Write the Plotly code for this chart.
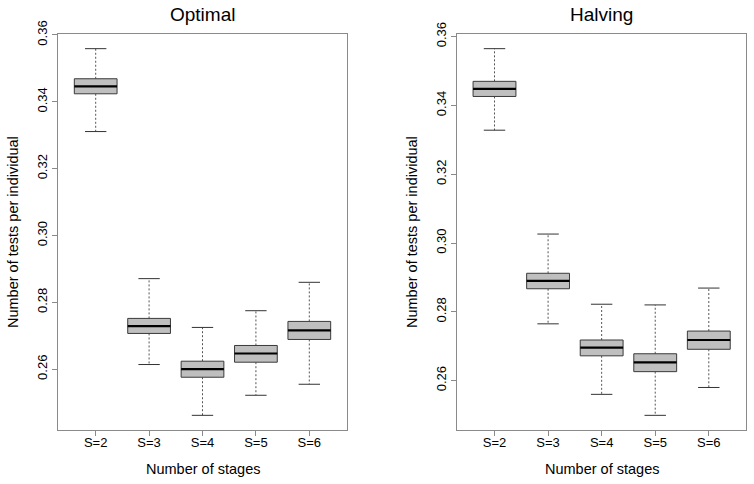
import plotly.graph_objects as go

stages = ["S=2", "S=3", "S=4", "S=5", "S=6"]

opt_lower = [0.3311, 0.2614, 0.2462, 0.2522, 0.2555]
opt_q1 = [0.3424, 0.2707, 0.2576, 0.2621, 0.2689]
opt_median = [0.3446, 0.2729, 0.2600, 0.2647, 0.2716]
opt_q3 = [0.3469, 0.2752, 0.2624, 0.2671, 0.2743]
opt_upper = [0.3559, 0.2871, 0.2725, 0.2775, 0.2860]

halv_lower = [0.3328, 0.2765, 0.2560, 0.2499, 0.2580]
halv_q1 = [0.3426, 0.2867, 0.2672, 0.2626, 0.2691]
halv_median = [0.3448, 0.2890, 0.2696, 0.2653, 0.2718]
halv_q3 = [0.3470, 0.2912, 0.2718, 0.2678, 0.2744]
halv_upper = [0.3565, 0.3026, 0.2822, 0.2820, 0.2869]

y_ticks = [0.26, 0.28, 0.30, 0.32, 0.34, 0.36]

FONT = "Liberation Sans, Arial, Helvetica, sans-serif"
BOX_FILL = "#bfbfbf"
BOX_LINE = "#3a3a3a"
FRAME = "#8a8a8a"
HALF = 0.4
CAP = 0.2

fig = go.Figure()


def add_panel(lower, q1, med, q3, upper, xa, ya):
    pos = list(range(1, len(stages) + 1))
    # whiskers (dashed)
    wx, wy = [], []
    for i, p in enumerate(pos):
        wx += [p, p, None, p, p, None]
        wy += [q3[i], upper[i], None, q1[i], lower[i], None]
    fig.add_trace(go.Scatter(x=wx, y=wy, mode="lines", xaxis=xa, yaxis=ya,
                             line=dict(color="#555555", width=1, dash="2px,2px"),
                             hoverinfo="skip", showlegend=False))
    # caps
    cx, cy = [], []
    for i, p in enumerate(pos):
        cx += [p - CAP, p + CAP, None, p - CAP, p + CAP, None]
        cy += [upper[i], upper[i], None, lower[i], lower[i], None]
    fig.add_trace(go.Scatter(x=cx, y=cy, mode="lines", xaxis=xa, yaxis=ya,
                             line=dict(color="#333333", width=1),
                             hoverinfo="skip", showlegend=False))
    # boxes
    for i, p in enumerate(pos):
        fig.add_trace(go.Scatter(
            x=[p - HALF, p + HALF, p + HALF, p - HALF, p - HALF],
            y=[q1[i], q1[i], q3[i], q3[i], q1[i]],
            mode="lines", fill="toself", fillcolor=BOX_FILL,
            line=dict(color=BOX_LINE, width=1), xaxis=xa, yaxis=ya,
            hoverinfo="skip", showlegend=False))
    # medians
    mx, my = [], []
    for i, p in enumerate(pos):
        mx += [p - HALF, p + HALF, None]
        my += [med[i], med[i], None]
    fig.add_trace(go.Scatter(x=mx, y=my, mode="lines", xaxis=xa, yaxis=ya,
                             line=dict(color="#000000", width=2.2),
                             hoverinfo="skip", showlegend=False))


add_panel(opt_lower, opt_q1, opt_median, opt_q3, opt_upper, "x", "y")
add_panel(halv_lower, halv_q1, halv_median, halv_q3, halv_upper, "x2", "y2")


def yrange(lower, upper):
    lo, hi = min(lower), max(upper)
    pad = (hi - lo) * 0.04
    return [lo - pad, hi + pad]


W, H = 754, 484
left_dom = [58.3 / W, 346.7 / W]
right_dom = [457.0 / W, 746.3 / W]
y_dom = [(H - 430) / H, (H - 34) / H]

xcommon = dict(tickmode="array", tickvals=list(range(1, 6)), ticktext=stages,
               range=[0.3, 5.7], showgrid=False, zeroline=False, automargin=False,
               showline=True, linecolor=FRAME, linewidth=1, mirror=True,
               ticks="outside", ticklen=5, tickcolor=FRAME, tickwidth=1,
               ticklabelstandoff=-5,
               tickfont=dict(family=FONT, size=13, color="#000000"))
ycommon = dict(tickmode="array", tickvals=y_ticks,
               ticktext=["%.2f" % v for v in y_ticks],
               showgrid=False, zeroline=False, automargin=False,
               showline=True, linecolor=FRAME, linewidth=1, mirror=True,
               ticks="outside", ticklen=5, tickcolor=FRAME, tickwidth=1,
               tickangle=-90,
               tickfont=dict(family=FONT, size=13, color="#000000"))

fig.update_layout(
    width=W, height=H, autosize=False,
    margin=dict(l=0, r=0, t=0, b=0, pad=0),
    paper_bgcolor="white", plot_bgcolor="white",
    font=dict(family=FONT, color="#000000"),
    xaxis=dict(domain=left_dom, anchor="y", **xcommon),
    yaxis=dict(domain=y_dom, anchor="x", range=yrange(opt_lower, opt_upper), **ycommon),
    xaxis2=dict(domain=right_dom, anchor="y2", **xcommon),
    yaxis2=dict(domain=y_dom, anchor="x2", range=yrange(halv_lower, halv_upper), **ycommon),
)

annots = []
for dom, title, ytx in [(left_dom, "Optimal", 13.0), (right_dom, "Halving", 412.0)]:
    cx = (dom[0] + dom[1]) / 2
    annots.append(dict(text=title, x=cx, y=(H - 14) / H, xref="paper", yref="paper",
                       showarrow=False, xanchor="center", yanchor="middle",
                       font=dict(family=FONT, size=19, color="#000000")))
    annots.append(dict(text="Number of stages", x=cx, y=(H - 469) / H,
                       xref="paper", yref="paper", showarrow=False,
                       xanchor="center", yanchor="middle",
                       font=dict(family=FONT, size=14.5, color="#000000")))
    annots.append(dict(text="Number of tests per individual", x=ytx / W,
                       y=(H - 232) / H, xref="paper", yref="paper",
                       showarrow=False, textangle=-90,
                       xanchor="center", yanchor="middle",
                       font=dict(family=FONT, size=14.5, color="#000000")))
fig.update_layout(annotations=annots)

fig.write_html("out.html", config={"displayModeBar": False},
               post_script="document.body.style.margin='0';document.body.style.overflow='hidden';")
